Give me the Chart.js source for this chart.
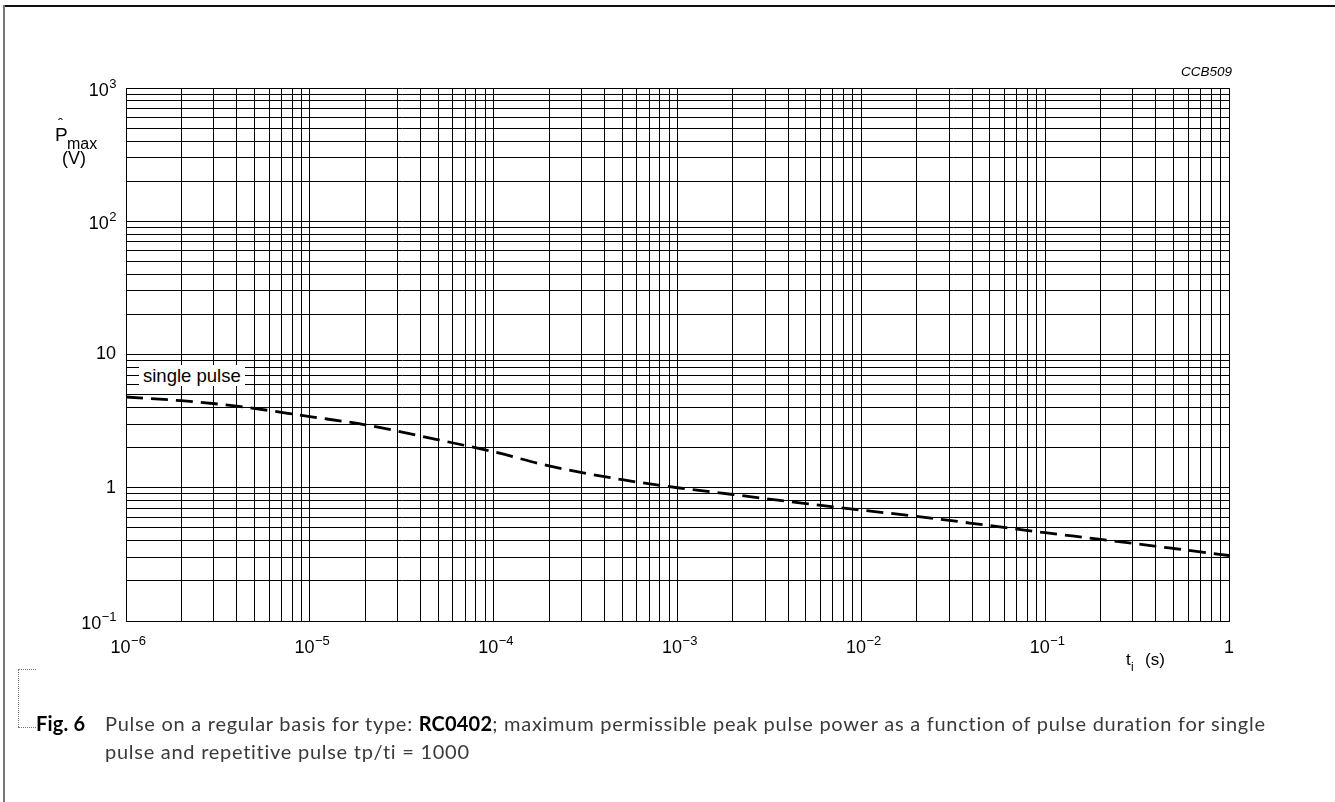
<!DOCTYPE html>
<html>
<head>
<meta charset="utf-8">
<script src="https://cdn.jsdelivr.net/npm/chart.js@4.4.0/dist/chart.umd.min.js"></script>
<style>
html,body{margin:0;padding:0;background:#fff;}
#wrap{position:relative;width:1335px;height:802px;overflow:hidden;background:#fff;}
#box{position:absolute;left:0;top:0;width:1335px;height:802px;}
.t{position:absolute;font-family:"Liberation Sans",Arial,Helvetica,sans-serif;color:#000;white-space:nowrap;line-height:1;}
#frameTop{position:absolute;left:3px;top:5px;width:1332px;height:2px;background:#111;}
#frameLeft{position:absolute;left:3px;top:5px;width:2px;height:797px;background:#777;}
#brV{position:absolute;left:18px;top:669px;width:0;height:58px;border-left:1px dotted #777;}
#brT{position:absolute;left:18px;top:669px;width:18px;height:0;border-top:1px dotted #777;}
#brB{position:absolute;left:18px;top:727px;width:18px;height:0;border-top:1px dotted #777;}
.cap{position:absolute;font-family:Lato,"Open Sans",sans-serif;font-size:20px;letter-spacing:0.73px;color:#3a3a3a;white-space:nowrap;line-height:1;}
.cap b{color:#000;font-weight:700;letter-spacing:0.2px;}
#sp{position:absolute;left:139px;top:365px;height:21px;padding:0 4px;background:#fff;font-family:"Liberation Sans",Arial,sans-serif;font-size:18.5px;line-height:21px;color:#000;white-space:nowrap;}
</style>
</head>
<body>
<div id="wrap">
  <div id="box"><canvas id="c"></canvas></div>
  <div id="frameTop"></div>
  <div id="frameLeft"></div>

  <div class="t" style="left:58px;top:116px;font-size:15px;">ˆ</div>
  <div class="t" style="left:55px;top:125px;font-size:19px;">P</div>
  <div class="t" style="left:67px;top:136px;font-size:16px;">max</div>
  <div class="t" style="left:62px;top:149px;font-size:18px;">(V)</div>

  <div class="t" style="right:103px;top:65px;font-size:13.5px;font-style:italic;">CCB509</div>

  <div class="t" style="left:1126px;top:651px;font-size:17px;">t</div>
  <div class="t" style="left:1131px;top:661px;font-size:12px;">i</div>
  <div class="t" style="left:1145px;top:651px;font-size:17px;">(s)</div>

  <div id="sp">single pulse</div>

  <div id="brV"></div><div id="brT"></div><div id="brB"></div>
  <div class="cap" style="left:36px;top:713px;"><b>Fig. 6</b></div>
  <div class="cap" style="left:105px;top:713px;">Pulse on a regular basis for type: <b>RC0402</b>; maximum permissible peak pulse power as a function of pulse duration for single</div>
  <div class="cap" style="left:105px;top:741px;">pulse and repetitive pulse tp/ti = 1000</div>
</div>

<script>
// ---- data ----
const pulseDuration = [1e-6, 2e-6, 4e-6, 1e-5, 2e-5, 5e-5, 1e-4, 2e-4, 5e-4, 1e-3, 2e-3, 5e-3, 1e-2, 2e-2, 5e-2, 0.1, 0.2, 0.5, 1];
const singlePulse   = [4.8, 4.5, 4.1, 3.42, 2.97, 2.29, 1.86, 1.46, 1.15, 1.0, 0.89, 0.76, 0.68, 0.61, 0.52, 0.46, 0.41, 0.35, 0.31];

const xDecadeExps   = [-6, -5, -4, -3, -2, -1, 0];
const xLabelBase    = ['10', '10', '10', '10', '10', '10', '1'];
const xLabelSup     = ['\u22126', '\u22125', '\u22124', '\u22123', '\u22122', '\u22121', ''];
const yDecadeExps   = [-1, 0, 1, 2, 3];
const yLabelBase    = ['10', '1', '10', '10', '10'];
const yLabelSup     = ['\u22121', '', '', '2', '3'];
const minorSteps    = [1, 2, 3, 4, 5, 6, 7, 8, 9];

function logTicks(exps) {
  const out = [];
  for (let i = 0; i < exps.length; i++) {
    const e = exps[i];
    if (i === exps.length - 1) { out.push({value: Math.pow(10, e)}); break; }
    for (const m of minorSteps) out.push({value: m * Math.pow(10, e)});
  }
  return out;
}

const FONT = '"Liberation Sans", Arial, sans-serif';
function drawPowLabel(ctx, base, sup, x, y, align) {
  ctx.font = '18px ' + FONT;
  const wb = ctx.measureText(base).width;
  ctx.font = '13px ' + FONT;
  const ws = sup ? ctx.measureText(sup).width : 0;
  const total = wb + ws;
  let x0 = align === 'right' ? x - total : x - total / 2;
  ctx.font = '18px ' + FONT;
  ctx.fillText(base, x0, y);
  if (sup) {
    ctx.font = '13px ' + FONT;
    ctx.fillText(sup, x0 + wb + 0.5, y - 7);
  }
}

const powerLabels = {
  id: 'powerLabels',
  afterDraw(chart) {
    const ctx = chart.ctx, xs = chart.scales.x, ys = chart.scales.y;
    ctx.save();
    ctx.fillStyle = '#000';
    ctx.textAlign = 'left';
    ctx.textBaseline = 'middle';
    xDecadeExps.forEach((e, i) => {
      const px = xs.getPixelForValue(Math.pow(10, e));
      drawPowLabel(ctx, xLabelBase[i], xLabelSup[i], px + (xLabelSup[i] ? 2 : 0), xs.top + 27, 'center');
    });
    yDecadeExps.forEach((e, i) => {
      const py = ys.getPixelForValue(Math.pow(10, e));
      drawPowLabel(ctx, yLabelBase[i], yLabelSup[i], ys.right - 10, py + (yLabelSup[i] ? 3 : 0), 'right');
    });
    ctx.restore();
  }
};

const points = pulseDuration.map((x, i) => ({x: x, y: singlePulse[i]}));

new Chart(document.getElementById('c'), {
  type: 'line',
  data: {
    datasets: [{
      label: 'single pulse',
      data: points,
      borderColor: '#000',
      borderWidth: 2.8,
      borderDash: [17, 8],
      pointRadius: 0,
      fill: false,
      cubicInterpolationMode: 'monotone'
    }]
  },
  plugins: [powerLabels],
  options: {
    responsive: true,
    maintainAspectRatio: false,
    animation: false,
    events: [],
    layout: {padding: {left: 0, top: 88, right: 106, bottom: 141}},
    plugins: {legend: {display: false}, tooltip: {enabled: false}, title: {display: false}},
    scales: {
      x: {
        type: 'logarithmic',
        min: 1e-6, max: 1,
        afterBuildTicks: s => { s.ticks = logTicks(xDecadeExps); },
        afterFit: s => { s.height = 40; },
        grid: {color: '#000', lineWidth: 1, drawTicks: false},
        border: {color: '#000', width: 1},
        ticks: {display: false}
      },
      y: {
        type: 'logarithmic',
        min: 0.1, max: 1000,
        afterBuildTicks: s => { s.ticks = logTicks(yDecadeExps); },
        afterFit: s => { s.width = 126; },
        grid: {color: '#000', lineWidth: 1, drawTicks: false},
        border: {color: '#000', width: 1},
        ticks: {display: false}
      }
    }
  }
});
</script>
</body>
</html>
